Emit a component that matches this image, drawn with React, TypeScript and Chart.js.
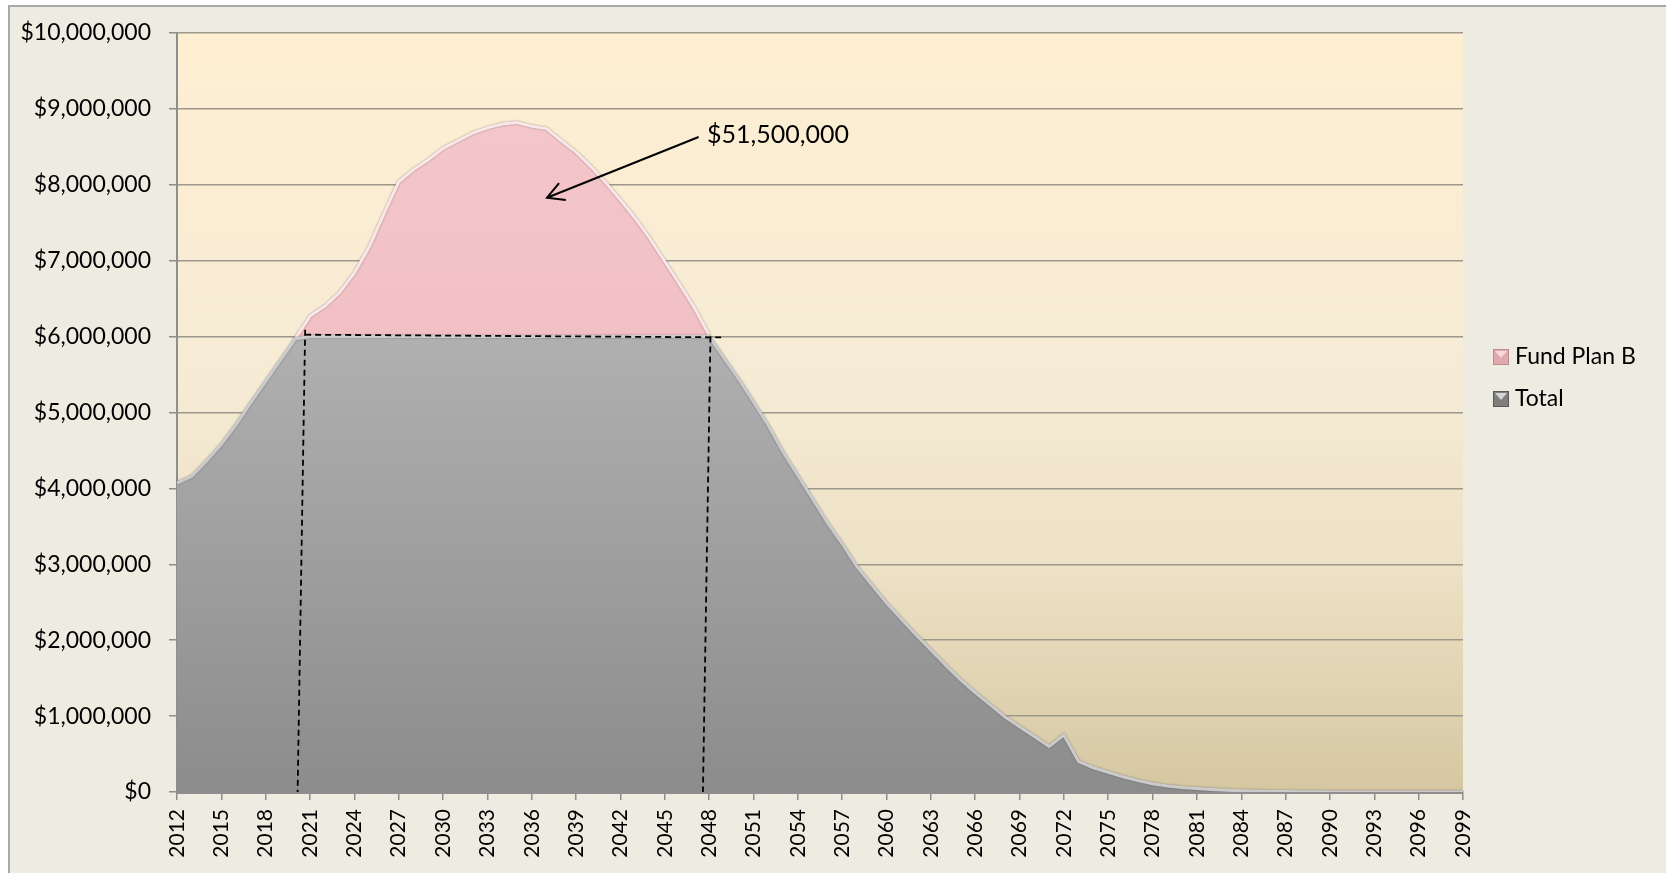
import React, { useEffect, useRef } from "react";
import { Chart, registerables } from "chart.js";

Chart.register(...registerables);

// ---------- data ----------
const years = [
  "2012","2013","2014","2015","2016","2017","2018","2019","2020","2021",
  "2022","2023","2024","2025","2026","2027","2028","2029","2030","2031",
  "2032","2033","2034","2035","2036","2037","2038","2039","2040","2041",
  "2042","2043","2044","2045","2046","2047","2048","2049","2050","2051",
  "2052","2053","2054","2055","2056","2057","2058","2059","2060","2061",
  "2062","2063","2064","2065","2066","2067","2068","2069","2070","2071",
  "2072","2073","2074","2075","2076","2077","2078","2079","2080","2081",
  "2082","2083","2084","2085","2086","2087","2088","2089","2090","2091",
  "2092","2093","2094","2095","2096","2097","2098","2099",
];

// Grey "Total" area (capped at $6M between 2021 and 2048)
const totalValues = [
  4070000, 4160000, 4360000, 4580000, 4840000, 5130000, 5410000, 5690000, 5970000,
  6000000, 6000000, 6000000, 6000000, 6000000, 6000000, 6000000, 6000000, 6000000, 6000000,
  6000000, 6000000, 6000000, 6000000, 6000000, 6000000, 6000000, 6000000, 6000000, 6000000,
  6000000, 6000000, 6000000, 6000000, 6000000, 6000000, 6000000, 6000000,
  5720000, 5440000, 5140000, 4830000, 4480000, 4170000, 3860000, 3550000, 3270000, 2970000,
  2730000, 2490000, 2280000, 2070000, 1870000, 1670000, 1480000, 1310000, 1150000, 990000,
  860000, 730000, 600000, 750000, 400000, 320000, 260000, 200000, 150000, 110000,
  80000, 60000, 45000, 33000, 24000, 17000, 12000, 8000, 5000, 3000,
  2000, 1000, 0, 0, 0, 0, 0, 0, 0, 0, 0,
];

// Pink "Fund Plan B" area (full curve 2020-2048)
const fundPlanBValues = [
  null, null, null, null, null, null, null, null,
  5970000, 6270000, 6400000, 6580000, 6840000, 7180000, 7620000, 8040000, 8200000, 8330000,
  8480000, 8580000, 8680000, 8750000, 8800000, 8820000, 8770000, 8740000, 8580000, 8430000,
  8240000, 8030000, 7800000, 7560000, 7290000, 6990000, 6690000, 6380000, 6020000,
  null, null, null, null, null, null, null, null, null, null,
  null, null, null, null, null, null, null, null, null, null,
  null, null, null, null, null, null, null, null, null, null,
  null, null, null, null, null, null, null, null, null, null,
  null, null, null, null, null, null, null, null, null, null,
  null,
];

const seriesNames = ["Fund Plan B", "Total"];
const yMin = 0;
const yMax = 10000000;
const yStep = 1000000;
const xLabelEvery = 3;

// annotation (in data units: category index, dollars)
const annotationText = "$51,500,000";
const annotationTextAt = [35.86, 8660000];
const arrowFrom = [35.29, 8630000];
const arrowTo = [25.03, 7830000];
const dashedGuides = [
  [[8.67, 6090000], [8.16, 0]],
  [[8.67, 6025000], [36.9, 5990000]],
  [[36.09, 6000000], [35.58, 0]],
];

const FONT = "Lato";

function fmtMoney(v: number) {
  return "$" + Math.round(v).toLocaleString("en-US");
}

const framePlugin = {
  id: "frame",
  beforeDraw(chart: any) {
    const { ctx, width, height, chartArea } = chart;
    ctx.save();
    ctx.fillStyle = "#ffffff";
    ctx.fillRect(0, 0, width, height);
    ctx.fillStyle = "#EEEBE0";
    ctx.fillRect(8, 5, width - 8, height - 5);
    ctx.strokeStyle = "#A9A9A9";
    ctx.lineWidth = 2;
    ctx.beginPath();
    ctx.moveTo(9, height);
    ctx.lineTo(9, 6);
    ctx.lineTo(width, 6);
    ctx.stroke();
    // plot background
    const g = ctx.createLinearGradient(0, chartArea.top, 0, chartArea.bottom);
    g.addColorStop(0, "#FEEFD2");
    g.addColorStop(0.45, "#F6EBD5");
    g.addColorStop(0.7, "#EDE2C6");
    g.addColorStop(1, "#D5C7A1");
    ctx.fillStyle = g;
    ctx.fillRect(chartArea.left, chartArea.top, chartArea.right - chartArea.left, chartArea.bottom - chartArea.top);
    ctx.restore();
  },
  beforeDatasetDraw(chart: any) {
    const { ctx } = chart;
    ctx.save();
    ctx.shadowColor = "rgba(70,70,70,0.55)";
    ctx.shadowBlur = 2;
    ctx.shadowOffsetX = 0;
    ctx.shadowOffsetY = 0;
  },
  afterDatasetDraw(chart: any) {
    chart.ctx.restore();
  },
  afterDatasetsDraw(chart: any) {
    const { ctx } = chart;
    const xs = chart.scales.x;
    const ys = chart.scales.y;
    const P = (p: number[]) => [xs.getPixelForValue(p[0]), ys.getPixelForValue(p[1])];
    ctx.save();
    // dashed guides
    ctx.strokeStyle = "#000";
    ctx.lineWidth = 1.8;
    ctx.setLineDash([6, 4]);
    for (const [a, b] of dashedGuides) {
      const pa = P(a);
      const pb = P(b);
      ctx.beginPath();
      ctx.moveTo(pa[0], pa[1]);
      ctx.lineTo(pb[0], pb[1]);
      ctx.stroke();
    }
    ctx.setLineDash([]);
    // arrow
    const s = P(arrowFrom);
    const t = P(arrowTo);
    ctx.lineWidth = 2;
    ctx.beginPath();
    ctx.moveTo(s[0], s[1]);
    ctx.lineTo(t[0], t[1]);
    ctx.stroke();
    const ang = Math.atan2(s[1] - t[1], s[0] - t[0]);
    const hl = 19;
    const spread = 0.5;
    ctx.beginPath();
    ctx.moveTo(t[0] + hl * Math.cos(ang - spread), t[1] + hl * Math.sin(ang - spread));
    ctx.lineTo(t[0], t[1]);
    ctx.lineTo(t[0] + hl * Math.cos(ang + spread), t[1] + hl * Math.sin(ang + spread));
    ctx.stroke();
    // text
    const tp = P(annotationTextAt);
    ctx.fillStyle = "#000";
    ctx.font = `25px ${FONT}`;
    ctx.textAlign = "left";
    ctx.textBaseline = "middle";
    ctx.fillText(annotationText, tp[0], tp[1]);
    ctx.restore();
  },
  afterDraw(chart: any) {
    const { ctx } = chart;
    ctx.save();
    const items = [
      { label: seriesNames[0], fill: "#DFA9AE", light: "#F6D9DC", edge: "#B98C92", y: 357 },
      { label: seriesNames[1], fill: "#7E7E7E", light: "#D6D6D6", edge: "#5A5A5A", y: 399 },
    ];
    for (const it of items) {
      const bx = 1493, by = it.y - 8, bs = 16;
      ctx.fillStyle = it.fill;
      ctx.fillRect(bx, by, bs, bs);
      ctx.fillStyle = it.light;
      ctx.beginPath();
      ctx.moveTo(bx + 2, by + 2);
      ctx.lineTo(bx + bs - 2, by + 2);
      ctx.lineTo(bx + bs / 2, by + bs / 2 + 1);
      ctx.closePath();
      ctx.fill();
      ctx.strokeStyle = it.edge;
      ctx.lineWidth = 1;
      ctx.strokeRect(bx + 0.5, by + 0.5, bs - 1, bs - 1);
      ctx.fillStyle = "#000";
      ctx.font = `23px ${FONT}`;
      ctx.textAlign = "left";
      ctx.textBaseline = "middle";
      ctx.fillText(it.label, 1515, it.y);
    }
    ctx.restore();
  },
};

export default function App() {
  const ref = useRef<HTMLCanvasElement | null>(null);
  useEffect(() => {
    document.body.style.margin = "0";
    const canvas = ref.current!;
    const greyFill = (c: any) => {
      const area = c.chart.chartArea;
      if (!area) return "#a0a0a0";
      const g = c.chart.ctx.createLinearGradient(0, area.top, 0, area.bottom);
      g.addColorStop(0, "#C2C2C2");
      g.addColorStop(0.4, "#B0B0B0");
      g.addColorStop(1, "#8C8C8C");
      return g;
    };
    const pinkFill = (c: any) => {
      const area = c.chart.chartArea;
      if (!area) return "#F2C2C6";
      const g = c.chart.ctx.createLinearGradient(0, area.top, 0, area.bottom);
      g.addColorStop(0, "#F4C9CD");
      g.addColorStop(0.4, "#F1C0C4");
      g.addColorStop(1, "#EDB8BC");
      return g;
    };
    const chart = new Chart(canvas, {
      type: "line",
      data: {
        labels: years,
        datasets: [
          {
            label: seriesNames[0],
            data: fundPlanBValues as any,
            backgroundColor: pinkFill,
            borderColor: "#FBE6E8",
            borderWidth: 3,
            fill: "origin",
            pointRadius: 0,
            tension: 0,
            order: 1,
          },
          {
            label: seriesNames[1],
            data: totalValues,
            backgroundColor: greyFill,
            borderColor: "#CBCBCB",
            borderWidth: 3,
            fill: "origin",
            pointRadius: 0,
            tension: 0,
            order: 0,
          },
        ],
      },
      options: {
        responsive: false,
        animation: false,
        events: [],
        layout: { padding: { top: 33, right: 203, bottom: 0, left: 0 } },
        plugins: {
          legend: { display: false },
          tooltip: { enabled: false },
        },
        scales: {
          x: {
            type: "category",
            offset: false,
            afterFit(scale: any) {
              scale.height = 81;
            },
            border: { display: true, color: "#8E8E8E", width: 3 },
            grid: {
              display: true,
              drawOnChartArea: false,
              drawTicks: true,
              tickLength: 8,
              color: "#8E8E8E",
              lineWidth: 1.5,
            },
            ticks: {
              autoSkip: false,
              maxRotation: 90,
              minRotation: 90,
              padding: 9,
              color: "#000",
              font: { family: FONT, size: 21 },
              callback(_v: any, i: number) {
                return i % xLabelEvery === 0 ? years[i] : null;
              },
            },
          },
          y: {
            min: yMin,
            max: yMax,
            afterFit(scale: any) {
              scale.width = 177;
            },
            border: { display: true, color: "#8E8E8E", width: 2 },
            grid: {
              color: "#9C988C",
              lineWidth: 1.5,
              tickLength: 8,
              tickColor: "#8E8E8E",
            },
            ticks: {
              stepSize: yStep,
              padding: 18,
              color: "#000",
              font: { family: FONT, size: 23 },
              callback(v: any) {
                return fmtMoney(Number(v));
              },
            },
          },
        },
      },
      plugins: [framePlugin],
    });
    return () => chart.destroy();
  }, []);
  return (
    <div style={{ position: "fixed", left: 0, top: 0, width: 1666, height: 873 }}>
      <canvas ref={ref} width={1666} height={873} style={{ display: "block" }} />
    </div>
  );
}
